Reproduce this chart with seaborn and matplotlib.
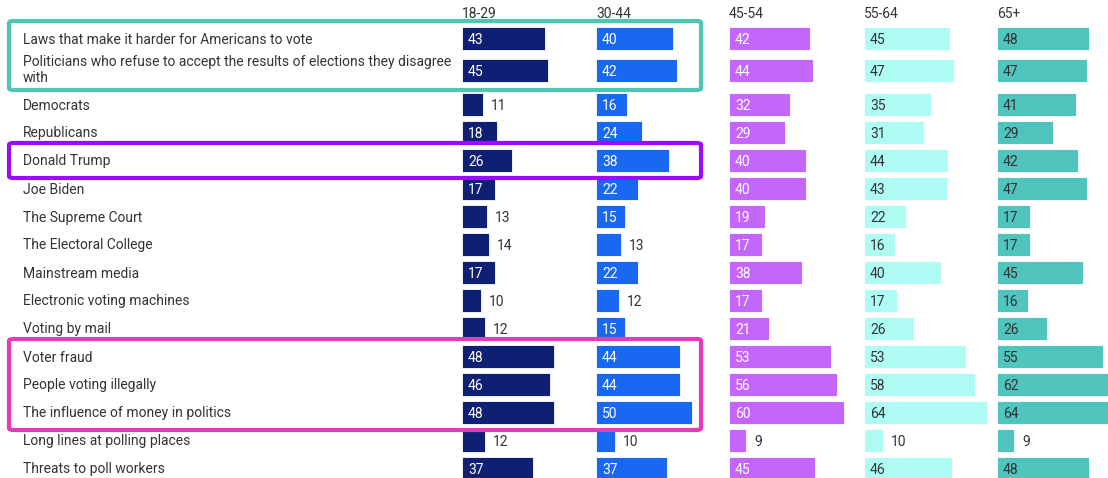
import matplotlib
matplotlib.use("Agg")
import matplotlib.pyplot as plt
import seaborn as sns
import numpy as np
import pandas as pd
from matplotlib.patches import FancyBboxPatch

# ---------------- data ----------------
categories = [
    "Laws that make it harder for Americans to vote",
    "Politicians who refuse to accept the results of elections they disagree\nwith",
    "Democrats",
    "Republicans",
    "Donald Trump",
    "Joe Biden",
    "The Supreme Court",
    "The Electoral College",
    "Mainstream media",
    "Electronic voting machines",
    "Voting by mail",
    "Voter fraud",
    "People voting illegally",
    "The influence of money in politics",
    "Long lines at polling places",
    "Threats to poll workers",
]
age_groups = ["18-29", "30-44", "45-54", "55-64", "65+"]
v18_29 = [43, 45, 11, 18, 26, 17, 13, 14, 17, 10, 12, 48, 46, 48, 12, 37]
v30_44 = [40, 42, 16, 24, 38, 22, 15, 13, 22, 12, 15, 44, 44, 50, 10, 37]
v45_54 = [42, 44, 32, 29, 40, 40, 19, 17, 38, 17, 21, 53, 56, 60, 9, 45]
v55_64 = [45, 47, 35, 31, 44, 43, 22, 16, 40, 17, 26, 53, 58, 64, 10, 46]
v65_plus = [48, 47, 41, 29, 42, 47, 17, 17, 45, 16, 26, 55, 62, 64, 9, 48]
series = [v18_29, v30_44, v45_54, v55_64, v65_plus]

# highlighted row groups (first row, last row) and their colors
highlights = [(0, 1, "#4fc6b2"), (4, 4, "#9b0cff"), (11, 13, "#e83ab8")]

# ---------------- style ----------------
bar_colors = ["#0f1f73", "#1868f2", "#c466fa", "#aefcf4", "#4fc5bd"]
inside_text = ["white", "white", "white", "#333333", "#333333"]
text_color = "#333333"

sns.set_theme(style="white")
plt.rcParams["font.family"] = ["Roboto", "DejaVu Sans"]

W, H = 1108, 478
fig = plt.figure(figsize=(W / 100, H / 100), dpi=100)

n = len(categories)
idx = np.arange(n)
row_step = 28
ypos = 38 + idx * row_step + np.where(idx == 1, 4, np.where(idx >= 2, 10, 0))

px_per_unit = 1.92
col_starts = [462, 596, 729, 864, 997]
col_w = 130
fs = 10

for ci, (vals, group) in enumerate(zip(series, age_groups)):
    x0 = col_starts[ci]
    ax = fig.add_axes([x0 / W, 0, col_w / W, 1])
    df = pd.DataFrame({"value": vals, "y": ypos})
    sns.barplot(data=df, x="value", y="y", orient="h", native_scale=True,
                color=bar_colors[ci], saturation=1, width=23 / 28,
                errorbar=None, ax=ax, edgecolor="white", linewidth=0.6)
    ax.set_xlim(0, col_w / px_per_unit)
    ax.set_ylim(H, 0)
    ax.axis("off")
    for v, y in zip(vals, ypos):
        if v >= 15:
            ax.annotate(str(v), (0, y), xytext=(6, 0), textcoords="offset pixels",
                        va="center_baseline", ha="left", fontsize=fs,
                        color=inside_text[ci])
        else:
            ax.annotate(str(v), (v, y), xytext=(8, 0), textcoords="offset pixels",
                        va="center_baseline", ha="left", fontsize=fs,
                        color=text_color)
    fig.text(x0 / W, 1 - 13 / H, group, ha="left", va="center_baseline",
             fontsize=fs, color=text_color)

for cat, y in zip(categories, ypos):
    fig.text(23 / W, 1 - y / H, cat, ha="left",
             va="center" if "\n" in cat else "center_baseline",
             fontsize=fs, color=text_color, linespacing=1.1)

for r0, r1, col in highlights:
    top = ypos[r0] - 17
    bot = ypos[r1] + (20 if r1 == 1 else 18)
    left, right = 9, 701
    box = FancyBboxPatch((left / W, 1 - bot / H), (right - left) / W, (bot - top) / H,
                         boxstyle="round,pad=0,rounding_size=0.004",
                         transform=fig.transFigure, fill=False,
                         edgecolor=col, linewidth=3.0, zorder=10)
    fig.patches.append(box)

fig.savefig("out.png", dpi=100)
